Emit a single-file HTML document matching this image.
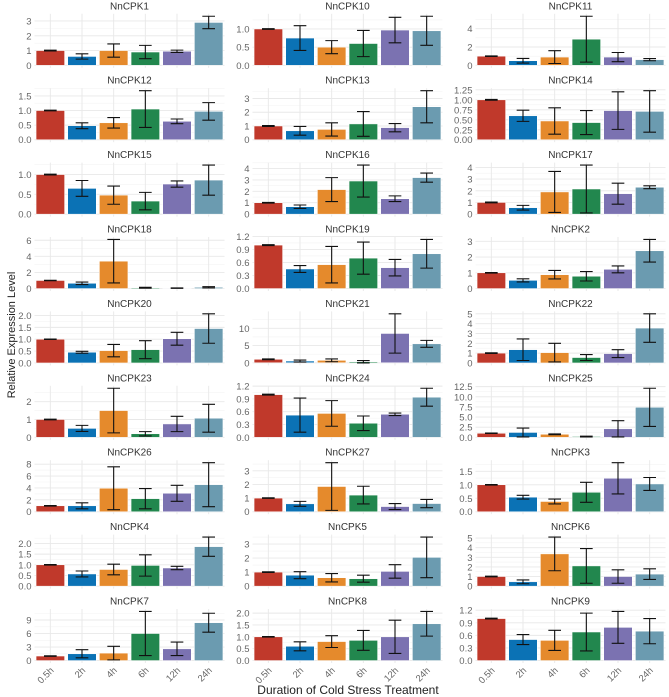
<!DOCTYPE html>
<html><head><meta charset="utf-8">
<style>
body{margin:0;background:#fff;}
svg{display:block;font-family:"Liberation Sans",sans-serif;}
</style></head>
<body>
<svg id="chart" width="669" height="697" viewBox="0 0 669 697" xmlns="http://www.w3.org/2000/svg"></svg>
<script>
const genes = ["NnCPK1","NnCPK10","NnCPK11","NnCPK12","NnCPK13","NnCPK14","NnCPK15","NnCPK16","NnCPK17","NnCPK18","NnCPK19","NnCPK2","NnCPK20","NnCPK21","NnCPK22","NnCPK23","NnCPK24","NnCPK25","NnCPK26","NnCPK27","NnCPK3","NnCPK4","NnCPK5","NnCPK6","NnCPK7","NnCPK8","NnCPK9"];
const times = ["0.5h","2h","4h","6h","12h","24h"];
const means = [
[1.0,0.6,1.0,0.9,0.95,2.9],
[1.0,0.75,0.5,0.6,0.97,0.95],
[1.0,0.5,0.9,2.85,0.9,0.62],
[1.0,0.48,0.58,1.05,0.63,0.97],
[1.0,0.65,0.75,1.15,0.88,2.4],
[1.0,0.6,0.47,0.43,0.73,0.71],
[1.0,0.65,0.48,0.33,0.76,0.86],
[1.0,0.65,2.15,2.9,1.35,3.2],
[1.0,0.55,1.9,2.15,1.75,2.3],
[1.0,0.65,3.4,0.1,0.05,0.15],
[1.0,0.45,0.55,0.7,0.48,0.8],
[1.0,0.52,0.88,0.78,1.22,2.4],
[1.0,0.45,0.52,0.56,1.02,1.45],
[1.0,0.5,0.7,0.3,8.5,5.5],
[1.0,1.35,1.05,0.55,0.95,3.55],
[1.0,0.5,1.5,0.2,0.75,1.07],
[1.0,0.52,0.56,0.33,0.54,0.94],
[1.0,1.2,0.75,0.2,2.1,7.4],
[1.0,1.0,3.95,2.2,3.1,4.55],
[1.0,0.58,1.85,1.22,0.38,0.6],
[1.0,0.54,0.38,0.72,1.24,1.03],
[1.0,0.57,0.78,0.97,0.85,1.85],
[1.0,0.78,0.6,0.53,1.05,2.05],
[1.0,0.45,3.35,2.1,1.0,1.25],
[1.0,1.5,1.65,6.0,2.6,8.4],
[1.0,0.6,0.8,0.85,1.0,1.55],
[1.0,0.5,0.48,0.68,0.79,0.7]];
const errs = [
[0.03,0.18,0.45,0.45,0.08,0.42],
[0.01,0.34,0.18,0.36,0.35,0.4],
[0.03,0.25,0.7,2.5,0.5,0.12],
[0.01,0.1,0.18,0.63,0.08,0.3],
[0.03,0.32,0.48,0.9,0.3,1.17],
[0.01,0.14,0.33,0.3,0.47,0.52],
[0.01,0.2,0.23,0.22,0.08,0.38],
[0.03,0.15,1.05,1.4,0.25,0.4],
[0.03,0.2,1.75,2.05,0.9,0.12],
[0.03,0.15,2.7,0.05,0.03,0.08],
[0.01,0.08,0.42,0.37,0.19,0.33],
[0.02,0.1,0.27,0.3,0.22,0.72],
[0.01,0.04,0.26,0.38,0.27,0.62],
[0.1,0.3,0.4,0.35,5.7,1.0],
[0.03,1.1,0.95,0.3,0.4,1.45],
[0.02,0.17,1.25,0.12,0.43,0.78],
[0.01,0.4,0.3,0.17,0.03,0.21],
[0.05,1.1,0.1,0.1,2.0,4.7],
[0.05,0.5,3.6,1.7,1.35,3.7],
[0.02,0.18,1.75,0.65,0.22,0.3],
[0.01,0.07,0.09,0.37,0.58,0.24],
[0.01,0.14,0.25,0.5,0.08,0.45],
[0.02,0.25,0.3,0.25,0.48,1.45],
[0.03,0.2,1.75,1.8,0.7,0.55],
[0.05,0.9,1.5,4.9,1.5,2.1],
[0.01,0.19,0.25,0.42,0.7,0.52],
[0.01,0.12,0.24,0.45,0.38,0.3]];
const tickLabels = [
["0","1","2","3"],["0.0","0.5","1.0"],["0","2","4"],["0.0","0.5","1.0","1.5"],
["0","1","2","3"],["0.00","0.25","0.50","0.75","1.00","1.25"],["0.0","0.5","1.0"],["0","1","2","3","4"],["0","1","2","3","4"],
["0","2","4","6"],["0.0","0.3","0.6","0.9","1.2"],["0","1","2","3"],
["0.0","0.5","1.0","1.5","2.0"],["0","5","10"],["0","1","2","3","4","5"],
["0","1","2"],["0.0","0.3","0.6","0.9","1.2"],["0.0","2.5","5.0","7.5","10.0","12.5"],
["0","2","4","6","8"],["0","1","2","3"],["0.0","0.5","1.0","1.5"],
["0.0","0.5","1.0","1.5","2.0"],["0","1","2","3"],["0","1","2","3","4","5"],
["0","3","6","9"],["0.0","0.5","1.0","1.5","2.0"],["0.0","0.3","0.6","0.9","1.2"]];
const colors = ["#c0392b","#0b72b5","#e58a2c","#22874e","#7b72b1","#6b9bb0"];

const svg = document.getElementById('chart');
const NS = "http://www.w3.org/2000/svg";
function mk(tag, attrs, parent){ const e=document.createElementNS(NS,tag); for(const k in attrs) e.setAttribute(k,attrs[k]); (parent||svg).appendChild(e); return e; }

const colX = [34.5, 252.5, 475.5];
const PW = 190, PH = 54, ROW0 = 13.8, ROWSTEP = 74.4;

genes.forEach((g, i) => {
  const col = i % 3, row = Math.floor(i / 3);
  const x0 = colX[col], y0 = ROW0 + row * ROWSTEP;
  const grp = mk('g', {});
  
  
  const m = means[i], e = errs[i];
  let hi = 0, lo = 0;
  m.forEach((v, j) => { hi = Math.max(hi, v + e[j]); lo = Math.min(lo, v - e[j]); });
  const span = hi - lo, dmin = lo - 0.05 * span, dmax = hi + 0.05 * span;
  const y = v => y0 + PH - (v - dmin) / (dmax - dmin) * PH;
  const band = PW / 6;
  const xc = j => x0 + band * (j + 0.5);
  const t = mk('text', {x: x0 + PW / 2, y: y0 - 4.5, 'text-anchor': 'middle', 'font-size': 10, fill: '#333'}, grp);
  t.textContent = g;
  
  
  const tl = tickLabels[i];
  const tv = tl.map(Number);
  const step = tv.length > 1 ? tv[1] - tv[0] : 1;
  for (let k = 0; k < tv.length; k++) {
    const mv = tv[k] + step / 2;
    if (mv <= dmax) mk('line', {x1: x0, x2: x0 + PW, y1: y(mv), y2: y(mv), stroke: '#f3f3f3', 'stroke-width': 0.6}, grp);
  }
  tv.forEach((v, k) => {
    mk('line', {x1: x0, x2: x0 + PW, y1: y(v), y2: y(v), stroke: '#e8e8e8', 'stroke-width': 0.9}, grp);
    const lab = mk('text', {x: x0 - 3, y: y(v) + 3.5, 'text-anchor': 'end', 'font-size': 9.5, fill: '#666'}, grp);
    lab.textContent = tl[k];
    
    
  });
  for (let j = 0; j < 6; j++) mk('line', {x1: xc(j), x2: xc(j), y1: y0, y2: y0 + PH, stroke: '#e8e8e8', 'stroke-width': 0.9}, grp);
  m.forEach((v, j) => {
    const bw = band * 0.9;
    const b = mk('rect', {x: xc(j) - bw / 2, y: Math.min(y(v), y(0)), width: bw, height: Math.abs(y(0) - y(v)), fill: colors[j], stroke: '#fff', 'stroke-width': 0.5}, grp);
    
    
    const ya = y(v + e[j]), yb = y(v - e[j]), cw = band * 0.2;
    const eb = mk('path', {d: `M${xc(j)-cw},${ya}H${xc(j)+cw}M${xc(j)},${ya}V${yb}M${xc(j)-cw},${yb}H${xc(j)+cw}`, stroke: '#111', 'stroke-width': 1.1, fill: 'none'}, grp);
    
    
  });
  if (row === 8) {
    times.forEach((tm, j) => {
      const xl = mk('text', {x: xc(j) + 4, y: y0 + PH + 8, 'text-anchor': 'end', 'font-size': 9.5, fill: '#666', transform: `rotate(-45 ${xc(j) + 4} ${y0 + PH + 8})`}, grp);
      xl.textContent = tm;
      
      
    });
  }
});
const xt = mk('text', {x: 348, y: 694, 'text-anchor': 'middle', 'font-size': 12, fill: '#222'});
xt.textContent = 'Duration of Cold Stress Treatment';


const yt = mk('text', {x: 12, y: 335, 'text-anchor': 'middle', 'font-size': 11, fill: '#222', transform: 'rotate(-90 12 335)', 'dominant-baseline': 'middle'});
yt.textContent = 'Relative Expression Level';


</script>
</body></html>
